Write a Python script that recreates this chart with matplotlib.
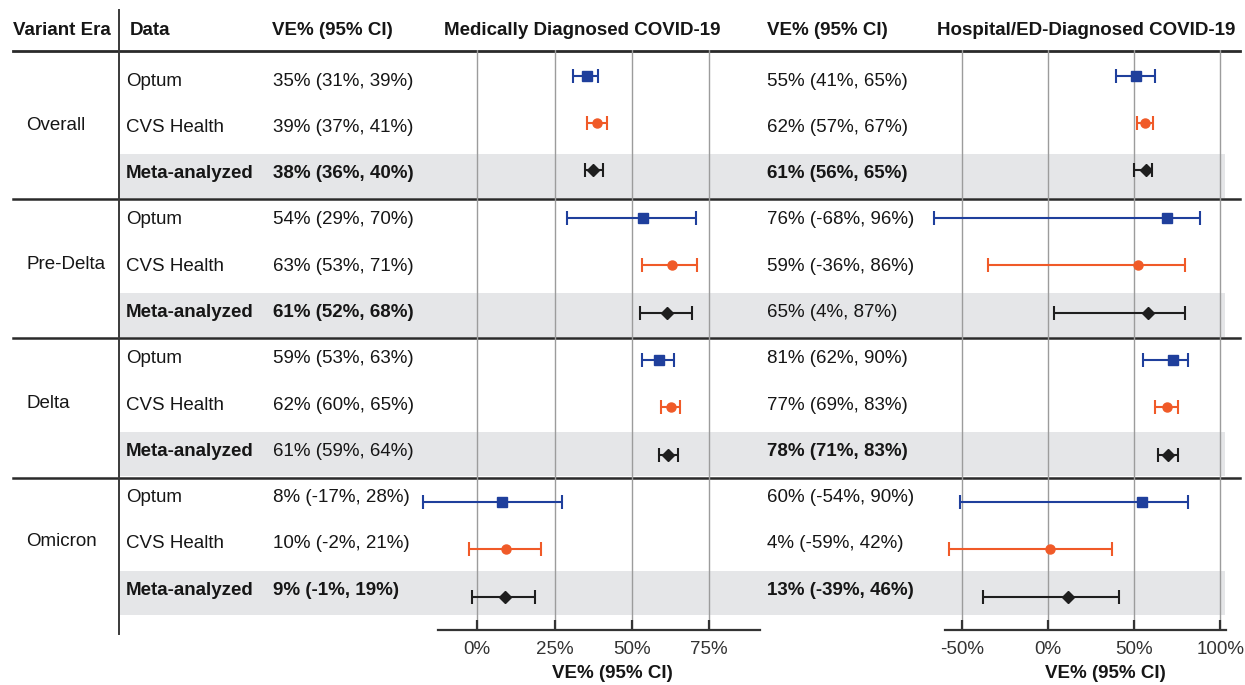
import matplotlib
matplotlib.use("Agg")
import matplotlib.pyplot as plt

plt.rcParams['font.family'] = ['Liberation Sans', 'DejaVu Sans']

# ---------------- data ----------------
eras = ["Overall", "Pre-Delta", "Delta", "Omicron"]
sources = ["Optum", "CVS Health", "Meta-analyzed"]

md_labels = ["35% (31%, 39%)", "39% (37%, 41%)", "38% (36%, 40%)",
             "54% (29%, 70%)", "63% (53%, 71%)", "61% (52%, 68%)",
             "59% (53%, 63%)", "62% (60%, 65%)", "61% (59%, 64%)",
             "8% (-17%, 28%)", "10% (-2%, 21%)", "9% (-1%, 19%)"]
md_bold = [False, False, True, False, False, True,
           False, False, False, False, False, True]
md_est = [35.6, 38.6, 37.5, 53.7, 63.1, 61.3, 58.8, 62.6, 61.8, 7.9, 9.3, 9.0]
md_lo = [30.9, 35.6, 34.9, 28.9, 53.2, 52.7, 53.2, 59.4, 58.9, -17.5, -2.7, -1.8]
md_hi = [39.2, 41.9, 40.6, 70.8, 71.0, 69.4, 63.7, 65.6, 65.0, 27.3, 20.6, 18.8]

hosp_labels = ["55% (41%, 65%)", "62% (57%, 67%)", "61% (56%, 65%)",
               "76% (-68%, 96%)", "59% (-36%, 86%)", "65% (4%, 87%)",
               "81% (62%, 90%)", "77% (69%, 83%)", "78% (71%, 83%)",
               "60% (-54%, 90%)", "4% (-59%, 42%)", "13% (-39%, 46%)"]
hosp_bold = [False, False, True, False, False, False,
             False, False, True, False, False, True]
hosp_est = [50.8, 56.4, 56.6, 69.2, 52.0, 58.1, 72.6, 68.8, 69.4, 54.7, 1.2, 11.8]
hosp_lo = [39.3, 51.8, 50.0, -65.9, -34.6, 3.5, 54.9, 62.0, 63.9, -51.0, -57.2, -37.8]
hosp_hi = [62.0, 61.0, 60.5, 88.1, 79.4, 79.4, 81.3, 75.2, 75.5, 81.0, 36.9, 41.3]

md_ticks = [0, 25, 50, 75]
md_ticklabels = ["0%", "25%", "50%", "75%"]
hosp_ticks = [-50, 0, 50, 100]
hosp_ticklabels = ["-50%", "0%", "50%", "100%"]

headers = ["Variant Era", "Data", "VE% (95% CI)", "Medically Diagnosed COVID-19",
           "VE% (95% CI)", "Hospital/ED-Diagnosed COVID-19"]
xlabel = "VE% (95% CI)"

# ---------------- styles ----------------
W, H = 1245, 685
FS = 13.5
TXT = '#161616'
colors = ['#1f3f9c', '#f05a28', '#1e1e1e']
markers = ['s', 'o', 'D']
msizes = [6.5, 6.5, 6.5]
band_color = '#e5e6e8'
line_color = '#2a2a2a'
grid_color = '#9c9c9c'

fig = plt.figure(figsize=(W / 100, H / 100), dpi=100)
bg = fig.add_axes([0, 0, 1, 1], zorder=0)
bg.set_xlim(0, W)
bg.set_ylim(H, 0)
bg.axis('off')

# table row positions (pixels)
row_y0, row_dy = 81.0, 46.3
group_seps = [199.0, 337.7, 477.7]
band_bottoms = [197.5, 336.5, 476.0, 615.0]
band_h = 44.0

# grey bands for meta rows
for bb in band_bottoms:
    bg.add_patch(plt.Rectangle((119.5, bb - band_h), 1224.5 - 119.5, band_h,
                               color=band_color, lw=0, zorder=0))

# header line and separators
bg.plot([13, 1240], [50.7, 50.7], color=line_color, lw=2.0, zorder=2)
for sy in group_seps:
    bg.plot([13, 1240], [sy, sy], color=line_color, lw=1.8, zorder=2)
bg.plot([118.5, 118.5], [10, 634], color='#3a3a3a', lw=1.4, zorder=2)

# headers
hx = [13, 130, 272, 444, 767, 937]
for x, t in zip(hx, headers):
    bg.text(x, 30, t, fontsize=FS, fontweight='bold', color=TXT,
            ha='left', va='center')

# era labels
for g, era in enumerate(eras):
    y = row_y0 + row_dy * (3 * g + 1) - 2
    bg.text(26, y, era, fontsize=FS, color=TXT, ha='left', va='center')

# data rows
for k in range(12):
    y = row_y0 + row_dy * k
    s = k % 3
    bg.text(126, y, sources[s], fontsize=FS, color=TXT, ha='left', va='center',
            fontweight='bold' if s == 2 else 'normal')
    bg.text(273, y, md_labels[k], fontsize=FS, color=TXT, ha='left', va='center',
            fontweight='bold' if md_bold[k] else 'normal')
    bg.text(767, y, hosp_labels[k], fontsize=FS, color=TXT, ha='left', va='center',
            fontweight='bold' if hosp_bold[k] else 'normal')

# ---------------- forest panels ----------------
ax_top, ax_bot = 50.0, 630.0
mk_y0, mk_dy = 75.7, 47.36


def forest(x0, x1, xlim, est, lo, hi, ticks, ticklabels, lab_x):
    ax = fig.add_axes([x0 / W, (H - ax_bot) / H, (x1 - x0) / W, (ax_bot - ax_top) / H],
                      zorder=1)
    ax.patch.set_alpha(0)
    for k in range(12):
        s = k % 3
        cont = ax.errorbar(est[k], k, xerr=[[est[k] - lo[k]], [hi[k] - est[k]]],
                           fmt=markers[s], color=colors[s], ms=msizes[s],
                           capsize=4.7, elinewidth=1.5, capthick=1.5, zorder=3)
        for art in cont.get_children():
            art.set_clip_on(False)
    ax.set_xlim(*xlim)
    ax.set_ylim((ax_bot - mk_y0) / mk_dy, (ax_top - mk_y0) / mk_dy)
    ax.set_xticks(ticks)
    ax.set_xticklabels(ticklabels)
    ax.set_yticks([])
    ax.grid(axis='x', color=grid_color, lw=1.0)
    ax.set_axisbelow(True)
    for sp in ['top', 'left', 'right']:
        ax.spines[sp].set_visible(False)
    ax.spines['bottom'].set_color('#333333')
    ax.spines['bottom'].set_linewidth(1.6)
    ax.tick_params(axis='x', direction='in', length=7.5, width=1.6,
                   color='#333333', pad=8, labelsize=FS, labelcolor='#333333')
    ax.set_xlabel(xlabel, fontsize=FS, fontweight='bold', color=TXT)
    ax.xaxis.set_label_coords(lab_x, -0.060)
    return ax


forest(438, 760, (-12.7, 91.5), md_est, md_lo, md_hi, md_ticks, md_ticklabels, 0.54)
forest(945, 1226, (-59.66, 103.2), hosp_est, hosp_lo, hosp_hi, hosp_ticks,
       hosp_ticklabels, 0.57)

fig.savefig("out.png", dpi=100)
